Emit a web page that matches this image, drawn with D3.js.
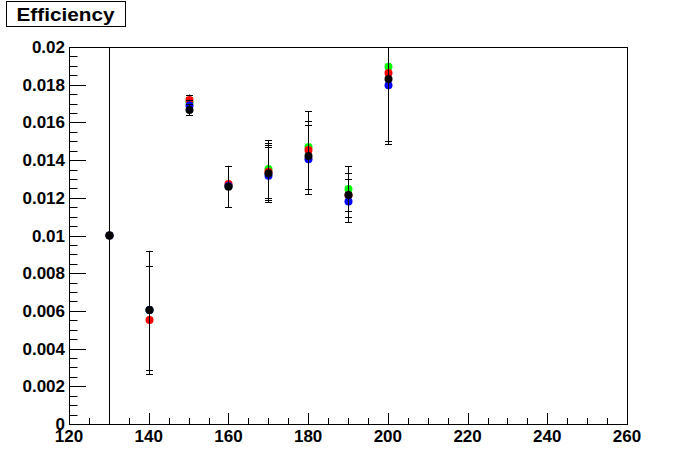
<!DOCTYPE html>
<html lang="en">
<head>
  <meta charset="UTF-8" />
  <title>Efficiency</title>
  <style>
    body {
      margin: 0;
      background: white;
      font-family: "Liberation Sans", Arial, Helvetica, sans-serif;
    }
    .tick-label {
      font-size: 17px;
      font-weight: bold;
      fill: #000;
    }
  </style>
</head>
<body>
  <svg width="696" height="472"></svg>

  <script src="https://d3js.org/d3.v7.min.js"></script>
  <script>
    // masses (x) and efficiencies per series
    const masses = [130, 140, 150, 160, 170, 180, 190, 200];

    const greenEff = [0.01, 0.00605, 0.01705, 0.01262, 0.01353, 0.0147, 0.01247, 0.01895];
    const greenUp  = [0.012, 0.00313, 0.0003, 0.00107, 0.00152, 0.0019, 0.0012, 0.004];
    const greenLo  = [0.01, 0.0034, 0.0003, 0.00111, 0.00153, 0.00225, 0.00147, 0.00394];

    const redEff = [0.01, 0.00552, 0.01719, 0.01273, 0.01338, 0.01454, 0.01213, 0.01862];
    const redUp  = [0.012, 0.00286, 0.00029, 0.00096, 0.00154, 0.00206, 0.00117, 0.004];
    const redLo  = [0.01, 0.00265, 0.0003, 0.00122, 0.0015, 0.00209, 0.00113, 0.00361];

    const blueEff = [0.01, 0.00605, 0.0169, 0.01262, 0.01317, 0.01405, 0.01181, 0.01797];
    const blueUp  = [0.012, 0.00313, 0.0003, 0.00107, 0.00151, 0.00181, 0.00117, 0.004];
    const blueLo  = [0.01, 0.0034, 0.0003, 0.00111, 0.0014, 0.00186, 0.00111, 0.00313];

    const blackEff = [0.01, 0.00605, 0.01666, 0.01259, 0.0133, 0.01422, 0.01215, 0.0183];
    const blackUp  = [0.012, 0.00313, 0.0003, 0.0011, 0.0015, 0.00184, 0.00115, 0.004];
    const blackLo  = [0.01, 0.0034, 0.00027, 0.00108, 0.00152, 0.00203, 0.00087, 0.00346];

    const xTicks = [120, 140, 160, 180, 200, 220, 240, 260];
    const yTicks = [0, 0.002, 0.004, 0.006, 0.008, 0.01, 0.012, 0.014, 0.016, 0.018, 0.02];
    const yTickLabels = ["0", "0.002", "0.004", "0.006", "0.008", "0.01", "0.012", "0.014", "0.016", "0.018", "0.02"];

    const series = [
      { color: "#00ff00", eff: greenEff, up: greenUp, lo: greenLo },
      { color: "#ff0000", eff: redEff, up: redUp, lo: redLo },
      { color: "#0000ff", eff: blueEff, up: blueUp, lo: blueLo },
      { color: "#000000", eff: blackEff, up: blackUp, lo: blackLo }
    ];

    const frame = { left: 69, right: 627, top: 47, bottom: 424 };

    const svg = d3.select("svg");

    const x = d3.scaleLinear().domain([120, 260]).range([frame.left, frame.right]);
    const y = d3.scaleLinear().domain([0, 0.02]).range([frame.bottom, frame.top]);

    svg.append("defs").append("clipPath")
        .attr("id", "frame-clip")
      .append("rect")
        .attr("x", frame.left)
        .attr("y", frame.top)
        .attr("width", frame.right - frame.left)
        .attr("height", frame.bottom - frame.top);

    // frame
    svg.append("rect")
      .attr("x", frame.left + 0.5)
      .attr("y", frame.top + 0.5)
      .attr("width", frame.right - frame.left)
      .attr("height", frame.bottom - frame.top)
      .attr("fill", "white")
      .attr("stroke", "#000")
      .attr("stroke-width", 1);

    // x ticks: major every 20, minor every 5
    const xMinor = d3.range(120, 260.1, 5);
    svg.append("g")
      .selectAll("line")
      .data(xMinor)
      .join("line")
        .attr("x1", d => Math.round(x(d)) + 0.5)
        .attr("x2", d => Math.round(x(d)) + 0.5)
        .attr("y1", frame.bottom)
        .attr("y2", d => frame.bottom - (d % 20 === 0 ? 11 : 6))
        .attr("stroke", "#000");

    svg.append("g")
      .selectAll("text")
      .data(xTicks)
      .join("text")
        .attr("class", "tick-label")
        .attr("x", d => x(d))
        .attr("y", frame.bottom + 18)
        .attr("text-anchor", "middle")
        .text(d => d);

    // y ticks: major every 0.002, minor every 0.0005
    const yMinor = d3.range(0, 41).map(i => i * 0.0005);
    svg.append("g")
      .selectAll("line")
      .data(yMinor)
      .join("line")
        .attr("x1", frame.left)
        .attr("x2", (d, i) => frame.left + (i % 4 === 0 ? 17 : 8.5))
        .attr("y1", d => Math.round(y(d)) + 0.5)
        .attr("y2", d => Math.round(y(d)) + 0.5)
        .attr("stroke", "#000");

    svg.append("g")
      .selectAll("text")
      .data(yTicks)
      .join("text")
        .attr("class", "tick-label")
        .attr("x", frame.left - 4)
        .attr("y", d => y(d) + 6)
        .attr("text-anchor", "end")
        .text((d, i) => yTickLabels[i]);

    // error bars and markers, series drawn in order
    const plot = svg.append("g").attr("clip-path", "url(#frame-clip)");

    series.forEach(s => {
      const pts = masses.map((m, i) => ({ m, v: s.eff[i], up: s.up[i], lo: s.lo[i] }));

      const g = plot.append("g");
      g.selectAll("line.err")
        .data(pts)
        .join("line")
          .attr("class", "err")
          .attr("x1", d => Math.round(x(d.m)) + 0.5)
          .attr("x2", d => Math.round(x(d.m)) + 0.5)
          .attr("y1", d => y(d.v + d.up))
          .attr("y2", d => y(d.v - d.lo))
          .attr("stroke", "#000");

      g.selectAll("line.cap-up")
        .data(pts)
        .join("line")
          .attr("class", "cap-up")
          .attr("x1", d => Math.round(x(d.m)) - 3)
          .attr("x2", d => Math.round(x(d.m)) + 4)
          .attr("y1", d => Math.round(y(d.v + d.up)) + 0.5)
          .attr("y2", d => Math.round(y(d.v + d.up)) + 0.5)
          .attr("stroke", "#000");

      g.selectAll("line.cap-lo")
        .data(pts)
        .join("line")
          .attr("class", "cap-lo")
          .attr("x1", d => Math.round(x(d.m)) - 3)
          .attr("x2", d => Math.round(x(d.m)) + 4)
          .attr("y1", d => Math.round(y(d.v - d.lo)) + 0.5)
          .attr("y2", d => Math.round(y(d.v - d.lo)) + 0.5)
          .attr("stroke", "#000");

      g.selectAll("circle")
        .data(pts)
        .join("circle")
          .attr("cx", d => Math.round(x(d.m)) + 0.5)
          .attr("cy", d => y(d.v))
          .attr("r", 4)
          .attr("fill", s.color);
    });

    // title box
    svg.append("rect")
      .attr("x", 6.5)
      .attr("y", 1.5)
      .attr("width", 119)
      .attr("height", 25)
      .attr("fill", "white")
      .attr("stroke", "#000");

    svg.append("text")
      .attr("x", 16.5)
      .attr("y", 20.5)
      .attr("font-size", 19)
      .attr("font-weight", "bold")
      .attr("textLength", 98)
      .attr("lengthAdjust", "spacingAndGlyphs")
      .text("Efficiency");
  </script>
</body>
</html>
